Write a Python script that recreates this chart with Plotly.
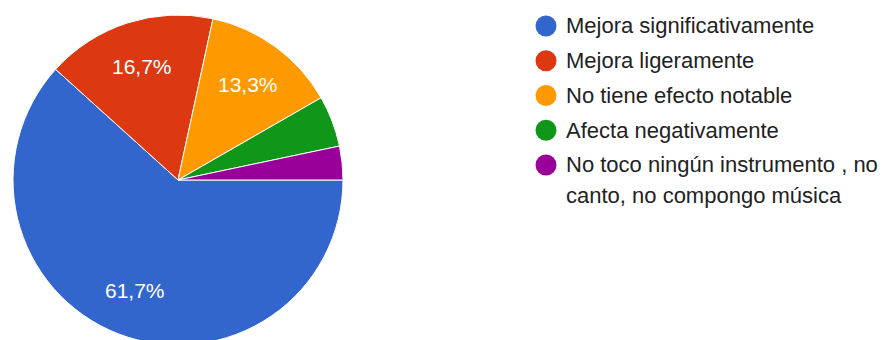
import math
import plotly.graph_objects as go

# Survey answers and their share of responses (%)
labels = [
    "Mejora significativamente",
    "Mejora ligeramente",
    "No tiene efecto notable",
    "Afecta negativamente",
    "No toco ningún instrumento , no<br>canto, no compongo música",
]
values = [61.7, 16.7, 13.3, 5.0, 3.3]
colors = ["#3366cc", "#dc3912", "#ff9900", "#109618", "#990099"]

# Only slices large enough get a percentage label
min_labelled = 10.0

W, H = 892, 360
FONT = "Arial, 'Liberation Sans', sans-serif"

# Pie placement in pixels (centre and radius)
cx, cy, r = 178, 180, 165
start_angle = 90          # degrees clockwise from 12 o'clock
label_radius = 0.72       # percentage labels sit at this fraction of the radius

fig = go.Figure(
    go.Pie(
        labels=labels,
        values=values,
        textinfo="none",
        marker=dict(colors=colors, line=dict(color="white", width=1)),
        sort=False,
        direction="clockwise",
        rotation=start_angle,
        showlegend=False,
        hoverinfo="label+percent",
        domain=dict(
            x=[(cx - r) / W, (cx + r) / W],
            y=[1 - (cy + r) / H, 1 - (cy - r) / H],
        ),
    )
)

annotations, shapes = [], []

# Percentage labels placed on each slice's bisector
total = sum(values)
acc = 0.0
for v in values:
    mid = start_angle + (acc + v / 2) / total * 360
    acc += v
    if v < min_labelled:
        continue
    a = math.radians(mid)
    px = cx + label_radius * r * math.sin(a)
    py = cy - label_radius * r * math.cos(a)
    annotations.append(dict(
        text=f"{v:.1f}%".replace(".", ","), xref="paper", yref="paper",
        x=px / W, y=1 - py / H, xanchor="center", yanchor="middle",
        showarrow=False, font=dict(family=FONT, size=21, color="white"),
    ))

# Legend drawn as circle swatches with text beside them
sw_x, sw_d = 546, 21
txt_x = 564
row0, row_step, line_step = 26, 34.75, 30.5
for i, (lab, col) in enumerate(zip(labels, colors)):
    y = row0 + i * row_step
    shapes.append(dict(
        type="circle", xref="paper", yref="paper",
        x0=(sw_x - sw_d / 2) / W, x1=(sw_x + sw_d / 2) / W,
        y0=1 - (y + sw_d / 2) / H, y1=1 - (y - sw_d / 2) / H,
        fillcolor=col, line=dict(width=0),
    ))
    for j, line in enumerate(lab.split("<br>")):
        annotations.append(dict(
            text=line, xref="paper", yref="paper",
            x=txt_x / W, y=1 - (y + j * line_step) / H,
            xanchor="left", yanchor="middle", showarrow=False,
            font=dict(family=FONT, size=22, color="#222222"),
        ))

fig.update_layout(
    width=W, height=H,
    margin=dict(l=0, r=0, t=0, b=0),
    paper_bgcolor="white",
    plot_bgcolor="white",
    shapes=shapes,
    annotations=annotations,
)

fig.write_html(
    "out.html",
    post_script="document.documentElement.style.overflow='hidden';document.body.style.overflow='hidden';",
)
